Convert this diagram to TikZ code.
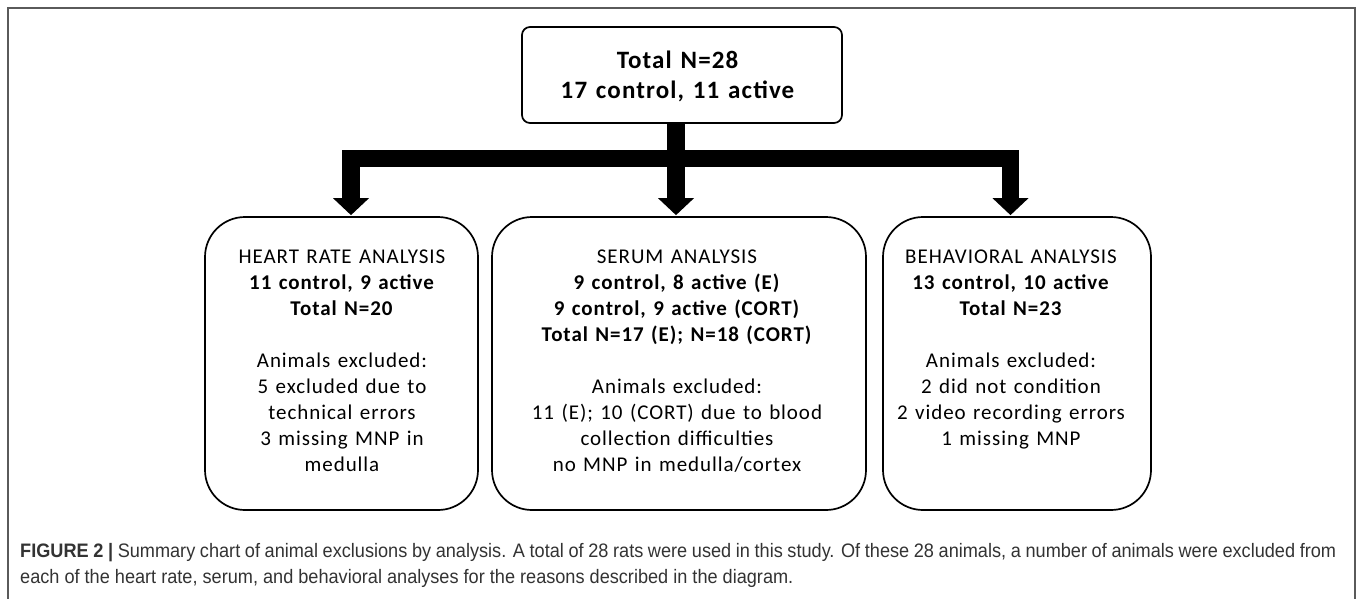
\documentclass[tikz,border=0pt]{standalone}
\usepackage{fontspec}
\setmainfont{Carlito}
\newfontfamily\boxfont[LetterSpace=4.5,WordSpace=1.3]{Carlito}
\newfontfamily\capfont[FakeStretch=0.93]{Liberation Sans}
\usetikzlibrary{arrows.meta}
\definecolor{framegray}{HTML}{5A5A5A}
\definecolor{captext}{HTML}{333333}
\tikzset{
 abox/.style={draw=black, line width=1.7pt, rounded corners=40pt, inner sep=0pt, minimum height=293pt},
 tbox/.style={draw=black, line width=1.7pt, rounded corners=8pt, inner sep=0pt, minimum width=320pt, minimum height=96pt},
 ttxt/.style={align=center, inner sep=0pt, font=\boxfont\bfseries\fontsize{25}{30}\selectfont},
 btxt/.style={align=center, anchor=north, font=\boxfont\fontsize{21}{26}\selectfont, inner sep=0pt},
 barline/.style={line width=17.5pt, line cap=rect},
 arr/.style={line width=17.5pt, shorten >=1pt, -{Triangle[width=35pt,length=17pt]}},
 captxt/.style={anchor=west, inner sep=0pt, font=\capfont\fontsize{19.5}{22}\selectfont, text=captext}
}
\begin{document}
\begin{tikzpicture}[x=1pt,y=-1pt]
\useasboundingbox (0,0) rectangle (1357,598);
\fill[white] (0,0) rectangle (1357,598);
\draw[framegray, line width=2pt] (8,600) -- (8,8) -- (1355,8) -- (1355,600);

\node[tbox] (top) at (682,75) {};
\node[ttxt] (topt) at (677.5,76) {Total N=28\\17 control, 11 active};

\node[abox, minimum width=273pt] (hr) at (341.5,363.5) {};
\node[abox, minimum width=374pt] (ser) at (679,363.5) {};
\node[abox, minimum width=268pt] (beh) at (1017,363.5) {};

\node[btxt] (hrt) at (342,250) {HEART RATE ANALYSIS\\\textbf{11 control, 9 active}\\\textbf{Total N=20}\\[26pt]Animals excluded:\\5 excluded due to\\technical errors\\3 missing MNP in\\medulla};
\node[btxt] (sert) at (677,250) {SERUM ANALYSIS\\\textbf{9 control, 8 active (E)}\\\textbf{9 control, 9 active (CORT)}\\\textbf{Total N=17 (E); N=18 (CORT)}\\[26pt]Animals excluded:\\11 (E); 10 (CORT) due to blood\\collection difficulties\\no MNP in medulla/cortex};
\node[btxt] (beht) at (1011,250) {BEHAVIORAL ANALYSIS\\\textbf{13 control, 10 active}\\\textbf{Total N=23}\\[26pt]Animals excluded:\\2 did not condition\\2 video recording errors\\1 missing MNP};

\coordinate (jl) at (351,158.5);
\coordinate (jm) at (676,158.5);
\coordinate (jr) at (1010.5,158.5);
\draw[barline] (jl) -- (jr);
\draw[line width=17.5pt] (top.south -| jm) -- (jm);
\draw[arr] (jl) -- (hr.north -| jl);
\draw[arr] (jm) -- (ser.north -| jm);
\draw[arr] (jr) -- (beh.north -| jr);

\node[captxt] (cap1) at (20,553) {\makebox[1316pt][s]{\textbf{FIGURE 2 |} Summary chart of animal exclusions by analysis. A total of 28 rats were used in this study. Of these 28 animals, a number of animals were excluded from}};
\node[captxt] (cap2) at (20,578) {each of the heart rate, serum, and behavioral analyses for the reasons described in the diagram.};
\end{tikzpicture}
\end{document}
